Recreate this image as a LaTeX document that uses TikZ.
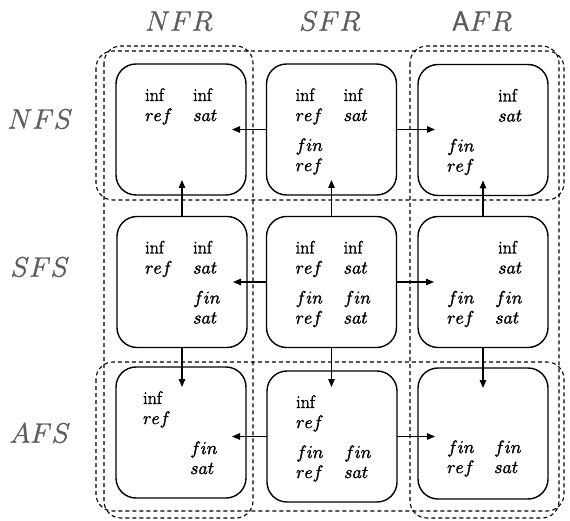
\documentclass[tikz,border=0pt]{standalone}
\usetikzlibrary{arrows.meta,calc}
% scalable math italic at any size
\DeclareFontShape{OML}{cmm}{m}{it}{<-6>cmmi5<6-7>cmmi6<7-8>cmmi7<8-9>cmmi8<9-10>cmmi9<10-12>cmmi10<12->cmmi12}{}
\definecolor{labelgray}{RGB}{92,92,92}
% fill-and-stroke text for a slightly heavier glyph weight
\newcommand\heavytext[2]{\special{pdf:literal direct 2 Tr #1 w}#2\special{pdf:literal direct 0 Tr}}
% two stacked words inside a state box: name, box, x offset, y offset, upper, lower
\newcommand\wpair[6]{%
  \node[word] (#1-u) at ($(#2.north west)+(#3,#4)$) {\heavytext{0.35}{#5}};
  \node[word] (#1-d) at ($(#2.north west)+(#3,#4+20)$) {\heavytext{0.35}{#6}};}
\begin{document}
\begin{tikzpicture}[x=1pt,y=-1pt,
  cell/.style={draw, line width=1.4pt, rounded corners=20pt, minimum width=130pt,
    minimum height=131pt, inner sep=0pt, outer sep=0pt},
  region/.style={draw=black, line width=1.1pt, dash pattern=on 4pt off 3pt,
    rounded corners=17pt},
  word/.style={anchor=base west, inner sep=0pt, font=\fontsize{18}{20}\selectfont},
  hdr/.style={text=labelgray, inner sep=0pt, font=\fontsize{28}{32}\selectfont},
  arr/.style={-{Triangle[length=8pt,width=6.5pt]}, line width=1.2pt}]
\useasboundingbox (0,0) rectangle (570,521);

% row and column groupings
\draw[region] (96,51) rectangle (564,200);
\draw[region] (96,362) rectangle (564,511);
\draw[region] (104,46) rectangle (253,518);
\draw[region] (410,46) rectangle (559,518);

% axis labels
\node[hdr] (hNFR) at (179,21) {\heavytext{0.3}{$NFR$}};
\node[hdr] (hSFR) at (330,21) {\heavytext{0.3}{$SFR$}};
\node[hdr] (hAFR) at (482,21) {\heavytext{0.3}{\textsf{A}$FR$}};
\node[hdr] (hNFS) at (40,119) {\heavytext{0.3}{$NFS$}};
\node[hdr] (hSFS) at (40,267) {\heavytext{0.3}{$SFS$}};
\node[hdr] (hAFS) at (40,433) {\heavytext{0.3}{$AFS$}};

% state boxes
\node[cell] (tl) at (181,129.5) {};
\node[cell] (tm) at (331.5,129.5) {};
\node[cell] (tr) at (483,130) {};
\node[cell] (ml) at (182,282) {};
\node[cell] (mm) at (331.5,282) {};
\node[cell] (mr) at (483,282) {};
\node[cell] (bl) at (181,432.5) {};
\node[cell] (bm) at (332,436.5) {};
\node[cell] (br) at (483,433.5) {};

% box contents
\wpair{tl1}{tl}{29}{37}{inf}{$ref$}
\wpair{tl2}{tl}{77}{37}{inf}{$sat$}

\wpair{tm1}{tm}{29}{37}{inf}{$ref$}
\wpair{tm2}{tm}{77}{37}{inf}{$sat$}
\wpair{tm3}{tm}{29}{87}{$fin$}{$ref$}

\wpair{tr2}{tr}{80}{37}{inf}{$sat$}
\wpair{tr3}{tr}{29}{87}{$fin$}{$ref$}

\wpair{ml1}{ml}{28}{37}{inf}{$ref$}
\wpair{ml2}{ml}{76}{37}{inf}{$sat$}
\wpair{ml4}{ml}{76}{87}{$fin$}{$sat$}

\wpair{mm1}{mm}{29}{37}{inf}{$ref$}
\wpair{mm2}{mm}{77}{37}{inf}{$sat$}
\wpair{mm3}{mm}{29}{87}{$fin$}{$ref$}
\wpair{mm4}{mm}{77}{87}{$fin$}{$sat$}

\wpair{mr2}{mr}{80}{37}{inf}{$sat$}
\wpair{mr3}{mr}{29}{87}{$fin$}{$ref$}
\wpair{mr4}{mr}{77}{87}{$fin$}{$sat$}

\wpair{bl1}{bl}{27}{37}{inf}{$ref$}
\wpair{bl4}{bl}{74}{87}{$fin$}{$sat$}

\wpair{bm1}{bm}{29}{37}{inf}{$ref$}
\wpair{bm3}{bm}{29}{87}{$fin$}{$ref$}
\wpair{bm4}{bm}{77}{87}{$fin$}{$sat$}

\wpair{br3}{br}{29}{85}{$fin$}{$ref$}
\wpair{br4}{br}{76}{85}{$fin$}{$sat$}

% transitions
\draw[arr, shorten >=-14pt] (tm.west) -- (tm.west -| tl.east);
\draw[arr, shorten >=-17pt] (tm.east) -- (tm.east -| tr.west);
\draw[arr, shorten >=-14pt] (mm.west) -- (mm.west -| ml.east);
\draw[arr, shorten >=-16pt] (mm.east) -- (mm.east -| mr.west);
\draw[arr, shorten >=-14pt] (bm.west) -- (bm.west -| bl.east);
\draw[arr, shorten >=-17pt] (bm.east) -- (bm.east -| br.west);

\draw[arr, shorten >=-15pt] (ml.north) -- (ml.north |- tl.south);
\draw[arr, shorten >=-15pt] (mm.north) -- (mm.north |- tm.south);
\draw[arr, shorten >=-15pt] (mr.north) -- (mr.north |- tr.south);
\draw[arr, shorten >=-20pt] (ml.south) -- (ml.south |- bl.north);
\draw[arr, shorten >=-16pt] (mm.south) -- (mm.south |- bm.north);
\draw[arr, shorten >=-20pt] (mr.south) -- (mr.south |- br.north);
\end{tikzpicture}
\end{document}
